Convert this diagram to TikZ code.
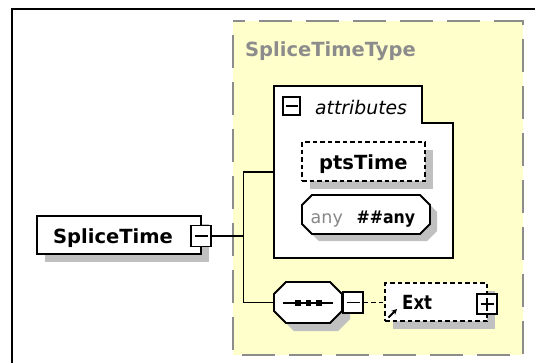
\documentclass[tikz,border=0pt]{standalone}
\usepackage{fontspec}
\usepackage{graphicx}
\setmainfont{DejaVu Sans}
\usetikzlibrary{shadows,arrows.meta}
\definecolor{ylw}{RGB}{255,255,204}
\definecolor{shd}{RGB}{192,192,192}
\definecolor{ttl}{RGB}{140,140,140}
\definecolor{anyc}{RGB}{135,135,135}
\begin{document}
\begin{tikzpicture}[x=1pt,y=-1pt,
  shadowed/.style={drop shadow={shadow xshift=8pt,shadow yshift=-8pt,fill=shd,opacity=1}},
  box/.style={draw,line width=2pt,fill=white,inner sep=0pt},
  dbox/.style={draw,line width=1.7pt,dash pattern=on 4.5pt off 3pt,fill=white,inner sep=0pt},
  ghost/.style={inner sep=0pt,outer sep=0pt},
  iconbox/.style={draw,line width=1.7pt,fill=white,inner sep=0pt,minimum width=20pt,minimum height=20pt},
  lbl/.style={font=\bfseries\fontsize{19.5}{20}\selectfont,inner sep=0pt},
  conn/.style={line width=1.7pt},
  sign/.style={line width=1.5pt},
]
\useasboundingbox (0,0) rectangle (535,362);
% outer frame
\draw[line width=2.4pt] (12,380) -- (12,9) -- (560,9);
% complex type area
\node[ghost, minimum width=290pt, minimum height=334pt] (ctype) at (378,188) {};
\fill[ylw] (ctype.north west) rectangle (ctype.south east);
\draw[draw=ttl, line width=2pt, dash pattern=on 33pt off 14pt, dash phase=21pt]
  (ctype.north west) -- (ctype.north east) -- (ctype.south east) -- (ctype.south west) -- cycle;
\node[lbl, text=ttl, anchor=base west] (ttltxt) at (245,56) {SpliceTimeType};

% SpliceTime element
\node[box, shadowed, minimum width=164pt, minimum height=38pt] (st) at (119,235) {};
\node[lbl, anchor=base west] (sttxt) at (53,243) {SpliceTime};
\node[iconbox, minimum height=21pt] (stm) at (201,236) {};
\draw[sign] (stm.center) +(-6.5,0) -- +(6.5,0);

% attributes group
\node[ghost, minimum width=179pt, minimum height=172pt] (attr) at (363.5,172) {};
\draw[line width=2pt, fill=white] (274,86) -- (422,86) -- (422,123) -- (453,123) -- (453,258) -- (274,258) -- cycle;
\node[iconbox, line width=1.5pt, minimum width=17pt, minimum height=18pt] (attrm) at (291.5,106) {};
\draw[sign] (attrm.center) +(-6,0) -- +(6,0);
\node[inner sep=0pt, anchor=base west, font=\itshape\fontsize{18.8}{19}\selectfont] (attrtxt) at (315,114) {attributes};

% ptsTime attribute
\node[dbox, shadowed, minimum width=123pt, minimum height=39pt] (pts) at (363.5,161.5) {};
\node[lbl, anchor=base west] (ptstxt) at (319,169) {ptsTime};

% any attribute
\node[ghost, minimum width=128pt, minimum height=39pt] (any) at (366,214.5) {};
\fill[shd] (319,202) -- (427,202) -- (437,212) -- (437,231) -- (427,241) -- (319,241) -- (309,231) -- (309,212) -- cycle;
\draw[line width=1.8pt, fill=white] (312,195) -- (420,195) -- (430,205) -- (430,224) -- (420,234) -- (312,234) -- (302,224) -- (302,205) -- cycle;
\node[inner sep=0pt, anchor=base west, text=anyc, font=\fontsize{17.5}{18}\selectfont] (anytxt) at (310.5,223) {any};
\node[inner sep=0pt, anchor=base west, font=\bfseries\fontsize{17.5}{18}\selectfont] (anyns) at (356.5,223) {\scalebox{0.9}[1]{\#\#any}};

% sequence compositor
\node[ghost, minimum width=68pt, minimum height=41pt] (seq) at (308,302.5) {};
\fill[shd] (294,290) -- (338,290) -- (350,302) -- (350,319) -- (338,331) -- (294,331) -- (282,319) -- (282,302) -- cycle;
\draw[line width=1.8pt, fill=white] (286,282) -- (330,282) -- (342,294) -- (342,311) -- (330,323) -- (286,323) -- (274,311) -- (274,294) -- cycle;
\draw[line width=1.5pt] (283,303) -- (333,303);
\foreach \sx in {298,308.5,319} \fill (\sx,303) +(-2.8,-2.8) rectangle +(2.8,2.8);
\node[iconbox, minimum height=21pt] (seqm) at (353,302.5) {};
\draw[sign] (seqm.center) +(-6.5,0) -- +(6.5,0);

% Ext element
\node[dbox, shadowed, minimum width=102pt, minimum height=38pt] (ext) at (436,302) {};
\node[lbl, anchor=base west] (exttxt) at (402,309) {\scalebox{0.85}[1]{Ext}};
\node[iconbox] (extp) at (487,304) {};
\draw[sign] (extp.center) +(-6.5,0) -- +(6.5,0);
\draw[sign] (extp.center) +(0,-6.5) -- +(0,6.5);
\draw[line width=1.8pt, -{Stealth[length=5.5pt,width=5.5pt]}] (388.5,317.5) -- (397,309);

% connectors
\coordinate (j) at (243.5,236);
\draw[conn] (stm.east) -- (j);
\draw[conn] (attr.west) -| (j) |- (seq.west);
\draw[conn, dash pattern=on 4.5pt off 3pt] (seqm.east) -- (seqm.east -| ext.west);
\end{tikzpicture}
\end{document}
